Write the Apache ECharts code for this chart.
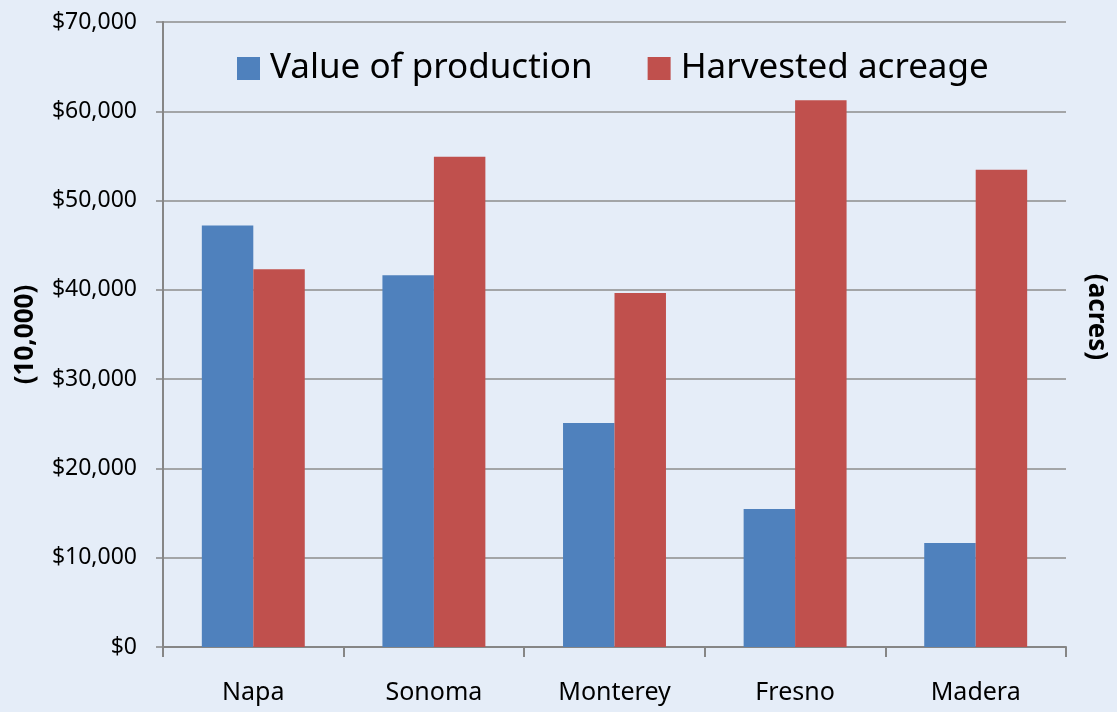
<!DOCTYPE html>
<html>
<head>
<meta charset="utf-8">
<script src="https://cdn.jsdelivr.net/npm/echarts@6/dist/echarts.min.js"></script>
<style>
html,body{margin:0;padding:0;background:#e5edf8;}
#c{width:1117px;height:712px;}
</style>
</head>
<body>
<div id="c"></div>
<script>
const categories = ['Napa', 'Sonoma', 'Monterey', 'Fresno', 'Madera'];
const valueOfProduction = [47200, 41650, 25100, 15450, 11650];
const harvestedAcreage = [42300, 54900, 39650, 61250, 53450];
const seriesNames = ['Value of production', 'Harvested acreage'];
const leftAxisName = '(10,000)';
const rightAxisName = '(acres)';

const FONT = '"Noto Sans", "Open Sans", sans-serif';
const chart = echarts.init(document.getElementById('c'), null, {renderer: 'canvas'});
chart.setOption({
  backgroundColor: '#e5edf8',
  animation: false,
  textStyle: {fontFamily: FONT},
  color: ['#4f81bd', '#c0504d'],
  legend: {
    top: 46,
    left: 232,
    itemWidth: 23,
    itemHeight: 23,
    itemGap: 55,
    icon: 'rect',
    textStyle: {fontSize: 35, color: '#000', fontFamily: FONT, padding: [0, 0, 0, 5]},
    data: seriesNames
  },
  grid: {left: 163, right: 51, top: 22, bottom: 65, containLabel: false, outerBoundsMode: 'none'},
  xAxis: {
    type: 'category',
    data: categories,
    axisLine: {lineStyle: {color: '#868686', width: 2}},
    axisTick: {show: true, length: 10, lineStyle: {color: '#868686', width: 2}},
    axisLabel: {fontSize: 25, color: '#000', margin: 33, fontFamily: FONT}
  },
  yAxis: [{
    type: 'value',
    min: 0, max: 70000, interval: 10000,
    name: leftAxisName,
    nameLocation: 'middle',
    nameGap: 124,
    nameRotate: 90,
    nameTextStyle: {fontSize: 26, fontWeight: 'bold', color: '#000', fontFamily: FONT},
    axisLine: {show: true, lineStyle: {color: '#868686', width: 2}},
    axisTick: {show: true, length: 7, lineStyle: {color: '#868686', width: 1.5}},
    axisLabel: {fontSize: 23, color: '#000', margin: 26, fontFamily: FONT,
      formatter: v => '$' + v.toLocaleString('en-US')},
    splitLine: {lineStyle: {color: '#8c8c8c', width: 1.5}}
  }],
  graphic: [{
    type: 'text',
    x: 1096,
    y: 317,
    rotation: -Math.PI / 2,
    style: {
      text: rightAxisName,
      fontSize: 26,
      fontWeight: 'bold',
      fontFamily: FONT,
      fill: '#000',
      textAlign: 'center',
      textVerticalAlign: 'middle'
    }
  }],
  series: [{
    name: seriesNames[0],
    type: 'bar',
    data: valueOfProduction,
    barWidth: '28.5%',
    barGap: '0%'
  }, {
    name: seriesNames[1],
    type: 'bar',
    data: harvestedAcreage,
    barWidth: '28.5%',
    barGap: '0%'
  }]
});
</script>
</body>
</html>
